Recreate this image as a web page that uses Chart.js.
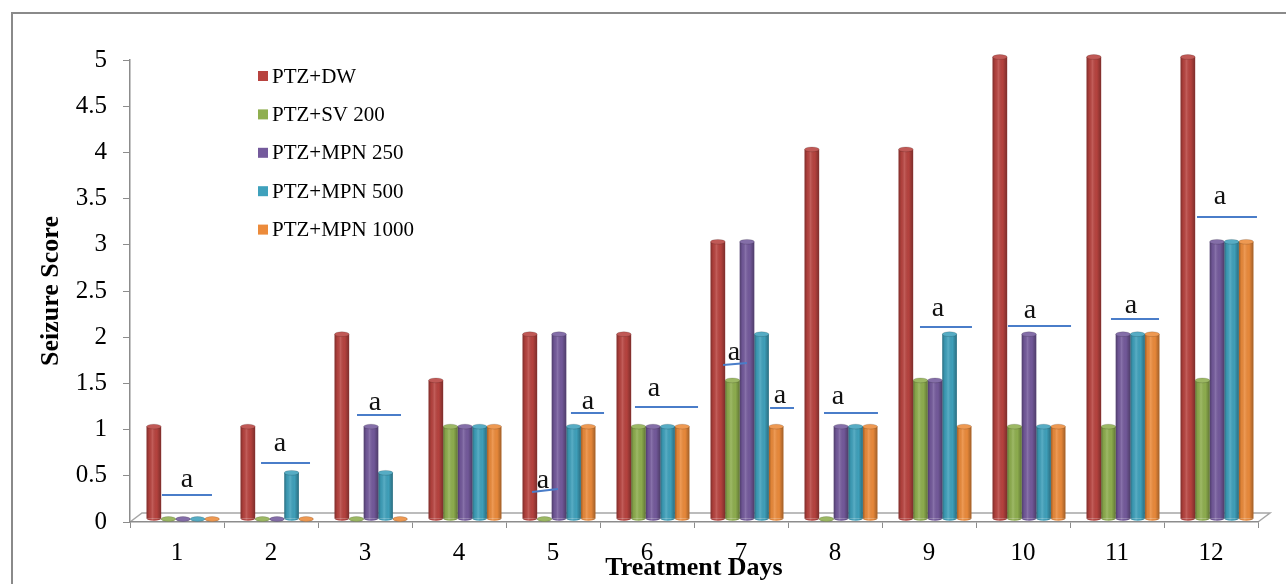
<!DOCTYPE html>
<html>
<head>
<meta charset="utf-8">
<script src="https://cdn.jsdelivr.net/npm/chart.js@4.4.1/dist/chart.umd.min.js"></script>
<style>
  html, body { margin: 0; padding: 0; background: #ffffff; }
  #wrap { width: 1286px; height: 584px; position: relative; }
</style>
</head>
<body>
<div id="wrap"><canvas id="c" width="1286" height="584"></canvas></div>
<script>
// ---------- DATA ----------
const days = ['1','2','3','4','5','6','7','8','9','10','11','12'];
const seriesNames = ['PTZ+DW','PTZ+SV 200','PTZ+MPN 250','PTZ+MPN 500','PTZ+MPN 1000'];
const ptzDW      = [1, 1, 2, 1.5, 2, 2, 3, 4, 4, 5, 5, 5];
const ptzSV200   = [0, 0, 0, 1, 0, 1, 1.5, 0, 1.5, 1, 1, 1.5];
const ptzMPN250  = [0, 0, 1, 1, 2, 1, 3, 1, 1.5, 2, 2, 3];
const ptzMPN500  = [0, 0.5, 0.5, 1, 1, 1, 2, 1, 2, 1, 2, 3];
const ptzMPN1000 = [0, 0, 0, 1, 1, 1, 1, 1, 1, 1, 2, 3];
const yTicks = [0, 0.5, 1, 1.5, 2, 2.5, 3, 3.5, 4, 4.5, 5];

// significance marks "a" (in axis units: category index / score)
const sigText  = 'a';
const sigX1 = [-0.160, 0.894, 1.915, 3.777, 4.191, 4.872, 5.809, 6.309, 6.883, 7.904, 8.840, 9.936, 10.851];
const sigX2 = [ 0.372, 1.415, 2.383, 4.053, 4.543, 5.543, 6.064, 6.564, 7.457, 8.457, 9.511, 10.447, 11.489];
const sigY1 = [ 0.292, 0.639, 1.158, 0.325, 1.180, 1.245, 1.699, 1.234, 1.180, 2.110, 2.121, 2.197, 3.301];
const sigY2 = [ 0.292, 0.639, 1.158, 0.357, 1.180, 1.245, 1.721, 1.234, 1.180, 2.110, 2.121, 2.197, 3.301];
const sigTX = [ 0.106, 1.096, 2.106, 3.894, 4.372, 5.074, 5.926, 6.415, 7.032, 8.096, 9.074, 10.149, 11.096];
const sigTY = [ 0.444, 0.833, 1.277, 0.433, 1.288, 1.429, 1.818, 1.353, 1.342, 2.294, 2.273, 2.327, 3.506];

// ---------- STYLE ----------
const colors = ['#B8433F', '#8FAF4F', '#745A9C', '#3FA1BC', '#EC8B3B'];
const SERIF = '"Liberation Serif", "Times New Roman", serif';
const AXIS_GRAY = '#8C8C8C';

const seriesValues = [ptzDW, ptzSV200, ptzMPN250, ptzMPN500, ptzMPN1000];
const datasets = seriesNames.map((n, i) => ({
  label: n,
  data: seriesValues[i],
  backgroundColor: colors[i],
  borderWidth: 0,
  categoryPercentage: 0.775,
  barPercentage: 1.0
}));

const DX = 6, DY = -3; // 3D depth shift of the plot floor

const framePlugin = {
  id: 'frame',
  beforeDraw(chart) {
    const ctx = chart.ctx;
    ctx.save();
    ctx.fillStyle = '#ffffff';
    ctx.fillRect(0, 0, chart.width, chart.height);
    ctx.strokeStyle = '#8A8A8A';
    ctx.lineWidth = 2;
    ctx.beginPath();
    ctx.moveTo(12, chart.height + 5);
    ctx.lineTo(12, 13);
    ctx.lineTo(chart.width + 5, 13);
    ctx.stroke();
    // floor
    const a = chart.chartArea;
    ctx.strokeStyle = '#A6A6A6';
    ctx.lineWidth = 1.5;
    ctx.beginPath();
    ctx.moveTo(a.left, a.bottom);
    ctx.lineTo(a.left + 12, a.bottom - 9);
    ctx.lineTo(a.right + 12, a.bottom - 9);
    ctx.lineTo(a.right, a.bottom);
    ctx.stroke();
    ctx.restore();
  },
  beforeDatasetsDraw(chart) {
    chart.ctx.save();
    chart.ctx.translate(DX, DY);
  },
  afterDatasetsDraw(chart) {
    const ctx = chart.ctx;
    chart.data.datasets.forEach((ds, di) => {
      const meta = chart.getDatasetMeta(di);
      meta.data.forEach(el => {
        const p = el.getProps(['x', 'y', 'base', 'width'], true);
        const l = p.x - p.width / 2, w = p.width;
        const h = p.base - p.y;
        ctx.beginPath();
        ctx.ellipse(p.x, p.base, w / 2, 2.2, 0, 0, Math.PI);
        ctx.fillStyle = ds.backgroundColor;
        ctx.fill();
        if (h > 0.5) {
          const g = ctx.createLinearGradient(l, 0, l + w, 0);
          g.addColorStop(0, 'rgba(0,0,0,0.32)');
          g.addColorStop(0.18, 'rgba(0,0,0,0.05)');
          g.addColorStop(0.4, 'rgba(255,255,255,0.14)');
          g.addColorStop(0.7, 'rgba(0,0,0,0.02)');
          g.addColorStop(1, 'rgba(0,0,0,0.32)');
          ctx.fillStyle = g;
          ctx.fillRect(l, p.y, w, h);
          ctx.beginPath();
          ctx.ellipse(p.x, p.base, w / 2, 2.2, 0, 0, Math.PI);
          ctx.fill();
        }
        ctx.beginPath();
        ctx.ellipse(p.x, p.y, w / 2, 2.4, 0, 0, Math.PI * 2);
        ctx.fillStyle = ds.backgroundColor;
        ctx.fill();
        ctx.fillStyle = 'rgba(255,255,255,0.12)';
        ctx.fill();
        ctx.strokeStyle = 'rgba(0,0,0,0.18)';
        ctx.lineWidth = 0.8;
        ctx.stroke();
      });
    });
    ctx.restore();
  },
  afterDraw(chart) {
    const ctx = chart.ctx;
    const xs = chart.scales.x, ys = chart.scales.y;
    ctx.save();
    ctx.strokeStyle = '#4A7DC9';
    ctx.lineWidth = 2;
    ctx.fillStyle = '#111111';
    ctx.font = '28px ' + SERIF;
    ctx.textAlign = 'center';
    ctx.textBaseline = 'alphabetic';
    for (let i = 0; i < sigX1.length; i++) {
      ctx.beginPath();
      ctx.moveTo(xs.getPixelForValue(sigX1[i]), ys.getPixelForValue(sigY1[i]));
      ctx.lineTo(xs.getPixelForValue(sigX2[i]), ys.getPixelForValue(sigY2[i]));
      ctx.stroke();
      ctx.fillText(sigText, xs.getPixelForValue(sigTX[i]), ys.getPixelForValue(sigTY[i]) + 6);
    }
    // legend
    ctx.font = '21px ' + SERIF;
    ctx.textAlign = 'left';
    ctx.textBaseline = 'middle';
    chart.data.datasets.forEach((ds, i) => {
      const cy = 76 + i * 38.4;
      ctx.fillStyle = ds.backgroundColor;
      ctx.fillRect(258, cy - 5, 10, 10);
      ctx.fillStyle = '#000000';
      ctx.fillText(ds.label, 272, cy + 1);
    });
    ctx.restore();
  }
};

new Chart(document.getElementById('c'), {
  type: 'bar',
  data: { labels: days, datasets },
  options: {
    responsive: false,
    animation: false,
    devicePixelRatio: 1,
    layout: { padding: { left: 0, top: 60, right: 28, bottom: 0 } },
    plugins: { legend: { display: false }, tooltip: { enabled: false } },
    scales: {
      x: {
        afterFit(scale) { scale.height = 62; },
        grid: { display: true, drawOnChartArea: false, drawTicks: true, tickLength: 6, color: AXIS_GRAY, offset: true },
        border: { display: true, color: AXIS_GRAY, width: 1.5 },
        ticks: { color: '#000', font: { family: SERIF, size: 25 }, padding: 10, maxRotation: 0, autoSkip: false },
        title: { display: true, text: 'Treatment Days', color: '#000',
                 font: { family: SERIF, size: 26, weight: 'bold' }, padding: { top: 1, bottom: 0 } }
      },
      y: {
        min: 0, max: 5,
        afterFit(scale) { scale.width = 130; },
        afterBuildTicks(scale) { scale.ticks = yTicks.map(v => ({ value: v })); },
        grid: { display: true, drawOnChartArea: false, drawTicks: true, tickLength: 7, color: AXIS_GRAY },
        border: { display: true, color: AXIS_GRAY, width: 1.5 },
        ticks: { color: '#000', font: { family: SERIF, size: 25 }, padding: 16,
                 callback: (v) => String(v) },
        title: { display: true, text: 'Seizure Score', color: '#000',
                 font: { family: SERIF, size: 26, weight: 'bold' }, padding: { top: 36, bottom: 0 } }
      }
    }
  },
  plugins: [framePlugin]
});
</script>
</body>
</html>
